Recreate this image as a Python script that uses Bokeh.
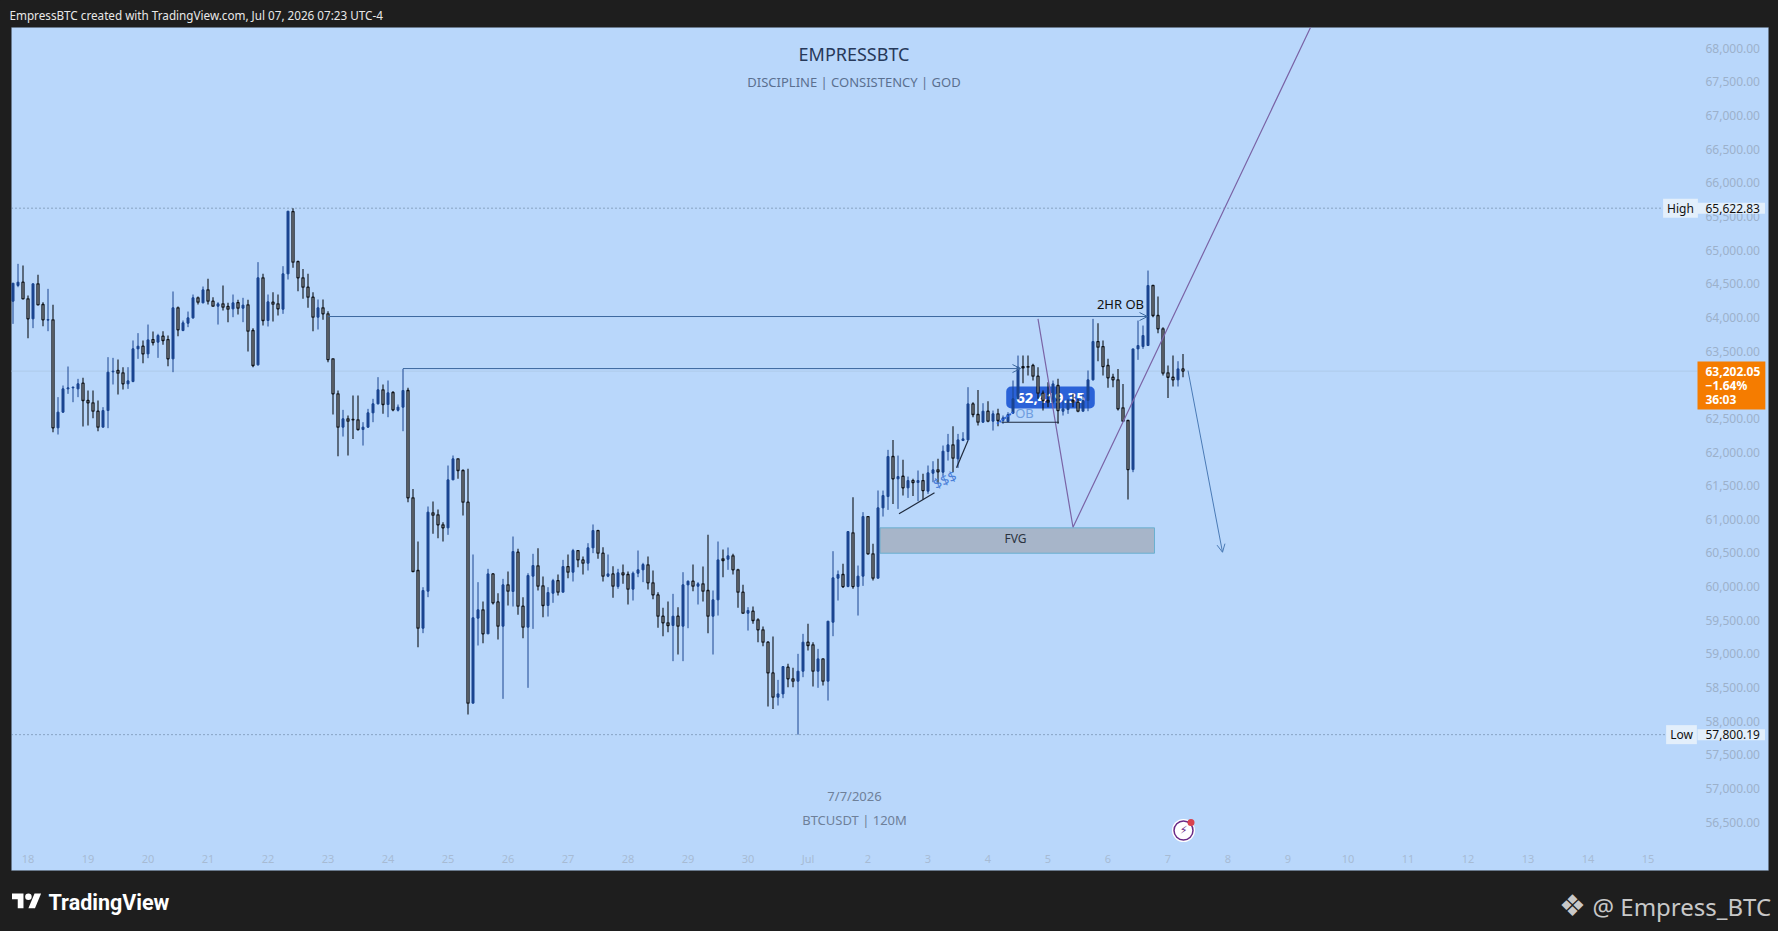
from bokeh.plotting import figure
from bokeh.models import (ColumnDataSource, Range1d, FixedTicker, NumeralTickFormatter, Label,
                          BoxAnnotation, Arrow, OpenHead)
from bokeh.embed import file_html
from bokeh.resources import INLINE

opens = [64241,64474,64523,64276,63979,64499,64192,63959,63964,62359,
62592,62938,62953,62938,63023,62765,62730,62607,62369,62616,
63191,63211,63176,63013,63047,63533,63572,63458,63671,63632,
63721,63671,63384,64142,63805,63914,63993,64291,64216,64409,
64241,64167,64201,64162,64127,64221,64137,64187,63805,63295,
64588,63954,64226,64201,64122,64647,65573,64830,64588,64449,
64300,64003,64142,64053,63384,62864,62369,62493,62483,62478,
62334,62369,62582,62716,62924,62706,62884,62621,62666,62914,
61319,60239,59382,59932,61096,61066,60918,60873,61586,61898,
61725,61254,58268,59531,59655,59298,60189,59773,59412,60026,
59927,60511,59709,59397,60155,60308,60011,59719,59902,60090,
59917,60298,60214,60536,60397,60348,60576,60833,60497,60155,
60189,60001,60204,60180,59962,60199,60249,60323,60056,59877,
59560,59461,59422,59560,59412,60026,60080,60006,60041,59942,
59560,59803,60412,60407,60457,60249,59917,59605,59635,59506,
59357,59174,58718,58357,58406,58803,58629,58595,58743,59174,
59135,58743,58926,58595,59471,60125,60180,60001,60799,60001,
60155,61041,60487,60125,61170,61338,61933,61601,61640,61467,
61576,61546,61576,61418,61685,61735,61700,62007,62106,61898,
62170,62180,62715,62557,62443,62606,62458,62567,62468,62453,
62577,62790,63270,63270,63285,63126,62874,62765,62740,62988,
62606,62631,62765,62740,62606,62765,63072,63641,63567,63285,
63111,63072,62656,62468,61739,63532,63567,63582,64474,64028,
63830,63176,63111,63072,63235]

highs = [64508,64796,64771,64325,64499,64632,64226,64424,64187,62815,
62988,63270,62973,63087,63102,62914,62914,62765,62666,63409,
63399,63374,63260,63260,63657,63766,63657,63894,63790,63756,
63795,63731,64385,64162,63954,64087,64340,64310,64459,64573,
64300,64226,64474,64216,64340,64261,64291,64261,63840,64821,
64647,64340,64375,64340,64761,65578,65622.83,64845,64721,64647,
64375,64266,64266,64092,63384,62914,62626,62542,62839,62839,
62443,62641,62790,63112,63003,63062,62904,62706,63236,62953,
61452,60670,59991,61190,61264,61145,60957,61799,61948,61898,
61740,61750,60477,60066,59778,60264,60199,59902,60115,60224,
60744,60561,59843,60199,60487,60571,60150,59991,60115,60180,
60397,60477,60561,60536,60447,60645,60923,60843,60586,60477,
60303,60264,60328,60224,60224,60536,60353,60447,60239,59917,
59684,59778,59892,59694,60214,60090,60328,60066,60298,60769,
59942,60670,60551,60581,60487,60264,60026,59694,59704,59531,
59407,59189,59258,58614,58817,58852,58793,59001,59298,59447,
59174,59075,58926,59486,60526,60239,60338,60823,61329,60313,
61106,61041,60635,61428,61427,62032,62180,61947,61883,61635,
61601,61725,61675,61799,61863,61898,62096,62269,62383,62269,
62294,62963,62740,62923,62725,62755,62616,62641,62542,62591,
63062,63433,63433,63433,63310,63260,62913,63037,63062,63087,
62765,62790,62864,62790,62864,63211,63978,63914,63656,63384,
63161,63235,63012,62477,63532,63953,63879,64696,64474,64310,
63854,63285,63433,63349,63458]

lows = [63904,64449,64276,63691,63840,64187,63870,63795,62294,62260,
62582,62864,62740,62815,62379,62394,62503,62309,62369,62354,
63003,62854,62928,62938,63037,63384,63320,63394,63582,63399,
63592,63275,63186,63721,63795,63855,63979,64192,64211,64192,
64162,63894,64102,63929,64003,64043,63929,63493,63260,63285,
63879,63865,63939,64028,64053,64563,64736,64390,64276,64142,
63795,63820,63964,63335,62557,61938,62230,61948,62195,62319,
62096,62359,62443,62706,62567,62517,62607,62602,62309,61254,
60224,59100,59308,59843,60784,60719,60670,60769,61586,61601,
61056,58099,58268,59125,59159,59298,59734,59214,58332,59719,
59704,59580,59234,58496,59372,59942,59546,59555,59759,59867,
59917,60125,60076,60288,60180,60239,60497,60412,60076,60140,
59833,59967,60041,59734,59793,60140,60066,59957,59813,59387,
59263,59323,58892,58991,58892,59382,59932,59734,59778,59308,
58991,59570,60140,60249,60180,59684,59595,59347,59447,59174,
59115,58218,58183,58233,58342,58505,58505,57800.19,58654,59050,
58515,58496,58530,58307,59263,59793,59981,59991,59967,59570,
60011,60477,60090,60125,61041,61140,61229,61155,61353,61318,
61348,61269,61289,61378,61551,61527,61650,61873,61700,61764,
62170,62170,62517,62393,62433,62443,62319,62383,62418,62453,
62567,62790,63022,63136,63062,62790,62616,62666,62715,62418,
62542,62567,62666,62591,62606,62606,63062,63349,63136,62953,
62963,62616,62458,61294,61700,63369,63532,63582,64003,63765,
63136,62804,62973,62973,63111]

closes = [64508,64523,64276,63979,64499,64187,63964,63969,62359,62592,
62938,62953,62963,63013,62765,62730,62607,62369,62616,63186,
63201,63171,63013,63057,63533,63572,63458,63666,63627,63731,
63657,63384,64142,63815,63919,63993,64291,64226,64409,64241,
64167,64201,64152,64122,64216,64137,64182,63795,63285,64588,
63954,64231,64196,64127,64647,65578,64821,64588,64449,64300,
64003,64142,64053,63374,62864,62369,62493,62458,62478,62334,
62369,62582,62716,62924,62706,62879,62626,62666,62914,61319,
60224,59382,59942,61106,61061,60918,60873,61586,61898,61725,
61254,58268,59536,59655,59298,60189,59759,59412,60026,59932,
60521,59709,59397,60165,60313,60006,59719,59912,60090,59917,
60298,60214,60536,60397,60348,60576,60833,60497,60155,60189,
60006,60204,60175,59962,60199,60249,60328,60056,59877,59560,
59461,59422,59560,59412,60026,60080,60006,60041,59932,59560,
59803,60397,60388,60457,60249,59917,59605,59645,59496,59357,
59174,58718,58357,58406,58812,58629,58595,58743,59174,59125,
58743,58926,58595,59486,60130,60180,60001,60818,60001,60155,
61041,60487,60125,61170,61353,61933,61601,61635,61467,61576,
61546,61576,61427,61690,61735,61705,62012,62106,61908,62180,
62195,62715,62557,62443,62606,62458,62567,62468,62507,62557,
62790,63260,63250,63260,63126,62874,62765,62740,63012,62616,
62641,62765,62740,62606,62765,63072,63641,63557,63270,63102,
63072,62641,62458,61739,63532,63582,63731,64474,64028,63830,
63171,63111,63072,63235,63202.05]

day_labels = ["18","19","20","21","22","23","24","25","26","27","28","29","30","Jul",
              "2","3","4","5","6","7","8","9","10","11","12","13","14","15"]
price_ticks = [56500,57000,57500,58000,58500,59000,59500,60000,60500,61000,61500,62000,
               62500,63000,63500,64000,64500,65000,65500,66000,66500,67000,67500,68000]
HIGH_PRICE = 65622.83
LOW_PRICE = 57800.19
LAST_PRICE = 63202.05

# drawings on the chart, as (bar index, price)
ob_line_a = ((63, 64013), (226.9, 64013))
ob_line_b = ((78, 63240), (201.5, 63240))
purple_x = [205, 212, 259.5]
purple_y = [63979, 60882, 68307]
plan_arrow = ((235, 63210), (241.9, 60510))
fvg_box = (173.4, 228.3, 60873, 60496)
trend_lines = [((177.2, 61081), (184.3, 61393)),
               ((188.7, 61765), (191, 62170)),
               ((197.7, 62442), (209.2, 62442))]

BG = "#b9d7fb"
DARK = "#1e1e1e"
UP = "#1a4590"
DOWN = "#0e1116"
HOLLOW = "#dfe9f4"

# pane geometry, in window pixels: the frame fills the window, the pane is a box inside it
W, H = 1778, 931
PANE_L, PANE_R, PANE_T, PANE_B = 11, 1768, 27, 870
SCALE_X, SCALE_Y = 1703, 845
PX_PER_BAR, BAR0_X = 5.0, 12.5
PX_PER_USD, P68_Y = 0.0673, 47.7


def X(px):
    return (px - BAR0_X) / PX_PER_BAR


def Y(py):
    return 68000 - (py - P68_Y) / PX_PER_USD


n = len(opens)
idx = list(range(n))
up = [i for i in idx if closes[i] > opens[i]]
dn = [i for i in idx if closes[i] <= opens[i]]


def subset(ids):
    return ColumnDataSource(dict(
        x=ids,
        hi=[highs[i] for i in ids],
        lo=[lows[i] for i in ids],
        top=[max(opens[i], closes[i]) for i in ids],
        bot=[min(opens[i], closes[i]) for i in ids],
    ))


p = figure(width=W, height=H, output_backend="svg", toolbar_location=None,
           x_range=Range1d(X(0), X(W)), y_range=Range1d(Y(H), Y(0)),
           y_axis_location="right",
           min_border=0,
           background_fill_color=DARK, border_fill_color=DARK)
p.outline_line_color = None
p.grid.visible = False

p.add_layout(BoxAnnotation(left=X(PANE_L), right=X(PANE_R), top=Y(PANE_T), bottom=Y(PANE_B),
                           fill_color=BG, fill_alpha=1, line_color="#66788e", line_width=1, level="image"))

# axes sit inside the pane, like TradingView's overlaid scales
xa = p.xaxis[0]
xa.fixed_location = Y(SCALE_Y)
xa.ticker = FixedTicker(ticks=[3 + 12 * k for k in range(len(day_labels))])
xa.major_label_overrides = {3 + 12 * k: s for k, s in enumerate(day_labels)}
xa.axis_line_color = None
xa.major_tick_line_color = None
xa.minor_tick_line_color = None
xa.major_tick_out = 0
xa.major_label_standoff = 5
xa.major_label_text_color = "#a7bbd4"
xa.major_label_text_font = "Noto Sans"
xa.major_label_text_font_size = "11px"

ya = p.yaxis[0]
ya.fixed_location = X(SCALE_X)
ya.ticker = FixedTicker(ticks=price_ticks)
ya.formatter = NumeralTickFormatter(format="0,0.00")
ya.axis_line_color = None
ya.major_tick_line_color = None
ya.minor_tick_line_color = None
ya.major_tick_out = 0
ya.major_label_standoff = 2
ya.major_label_text_color = "#9cb1cb"
ya.major_label_text_font = "Noto Sans"
ya.major_label_text_font_size = "12px"


def lab(text, x, y, size, color, font="Noto Sans", style="normal", align="center", level="annotation", **kw):
    l = Label(x=x, y=y, text=text, text_font=font, text_font_size=f"{size}px", text_color=color,
              text_font_style=style, text_align=align, text_baseline="middle", level=level, **kw)
    p.add_layout(l)
    return l


# blue price tag, beneath the candles
lab("OB", X(1024), Y(412), 13, "#6f9de0", level="underlay")
lab("62,419.35", X(1050), Y(397), 15, "white", style="bold", level="underlay",
    background_fill_color="#2a62d8", border_radius=5, padding=(10, 10, 6, 6))

# reference lines
p.segment([X(PANE_L)], [LAST_PRICE], [X(1697)], [LAST_PRICE], line_color="#aecaea", line_width=1)
p.segment([X(PANE_L)] * 2, [HIGH_PRICE, LOW_PRICE], [X(1664)] * 2, [HIGH_PRICE, LOW_PRICE],
          line_color="#57728c", line_width=1, line_dash="1 3")

# FVG
p.quad(left=[fvg_box[0]], right=[fvg_box[1]], top=[fvg_box[2]], bottom=[fvg_box[3]],
       fill_color="#a7b5c9", line_color="#6ab0d0", line_width=1)

# candles
src_up, src_dn = subset(up), subset(dn)
p.segment("x", "hi", "x", "lo", source=src_up, line_color=UP, line_width=1)
p.vbar("x", 0.4, "top", "bot", source=src_up, fill_color=UP, line_color=UP, line_width=1)
p.segment("x", "hi", "x", "lo", source=src_dn, line_color=DOWN, line_width=1.1)
p.vbar("x", 0.4, "top", "bot", source=src_dn, fill_color=HOLLOW, line_color=DOWN, line_width=1.3)

# drawings
p.line(purple_x, purple_y, line_color="#7a64a6", line_width=1.2)
for (a, b) in trend_lines:
    p.line([a[0], b[0]], [a[1], b[1]], line_color="#1f2a3d", line_width=1.2)
p.line([196.8, 200], [62420, 62590], line_color="#2a62d8", line_width=2, line_dash="2 1")

for (a, b), col in ((ob_line_a, "#3c689f"), (ob_line_b, "#3c689f"), (plan_arrow, "#4a7ab5")):
    p.add_layout(Arrow(end=OpenHead(size=8, line_color=col, line_width=1), line_color=col, line_width=1,
                       x_start=a[0], y_start=a[1], x_end=b[0], y_end=b[1]))

lab("$$$", X(944), Y(479), 14, "#4a7fd8", angle=25, angle_units="deg")
lab("2HR OB", X(1120), Y(303), 13, "#111111")
lab("FVG", X(1015), Y(538), 12, "#2b3340")
lab("EMPRESSBTC", X(853.5), Y(53), 18, "#27395a")
lab("DISCIPLINE | CONSISTENCY | GOD", X(853.5), Y(81), 13, "#5b7090")
lab("7/7/2026", X(854), Y(795), 13, "#6e8099")
lab("BTCUSDT | 120M", X(854), Y(819), 13, "#6e8099")

# lightning mark
p.scatter([X(1183)], [Y(830)], size=23, marker="circle", fill_color="white", line_color=None)
p.scatter([X(1183)], [Y(830)], size=19, marker="circle", fill_color="white", line_color="#6a2a86", line_width=1.5)
p.scatter([X(1190.5)], [Y(822)], size=7, marker="circle", fill_color="#d9424e", line_color=None)
lab("\u26a1", X(1183), Y(830), 11, "#6a2a86", font="DejaVu Sans")

# chips on the price scale
chip = "#e3effb"
lab("High", X(1680), HIGH_PRICE, 12, "#111111", background_fill_color=chip, padding=(4, 4, 1, 1))
lab("65,622.83", X(1697), HIGH_PRICE, 12, "#111111", align="left", background_fill_color=chip, padding=(8, 5, 1, 1))
lab("Low", X(1681), LOW_PRICE, 12, "#111111", background_fill_color=chip, padding=(4, 4, 1, 1))
lab("57,800.19", X(1697), LOW_PRICE, 12, "#111111", align="left", background_fill_color=chip, padding=(8, 5, 1, 1))
lab("63,202.05\n\u22121.64%\n36:03", X(1697), Y(385), 12, "white", style="bold", align="left",
    background_fill_color="#f57c00", padding=(8, 5, 2, 2), text_line_height=0.8)

# header and footer
lab("EmpressBTC created with TradingView.com, Jul 07, 2026 07:23 UTC-4", X(9), Y(14), 11.7, "#e8e8e8", align="left")


def logo_x(s):
    return X(11.5 + 0.82 * s)


def logo_y(s):
    return Y(893 + 0.82 * (s - 4))


p.patches([[logo_x(s) for s in (14, 7, 7, 0, 0, 14)], [logo_x(s) for s in (28, 20, 27.5, 35.5)]],
          [[logo_y(s) for s in (22, 22, 11, 11, 4, 4)], [logo_y(s) for s in (22, 22, 4, 4)]],
          fill_color="white", line_color=None)
p.scatter([logo_x(20)], [logo_y(8)], size=6.5, marker="circle", fill_color="white", line_color=None)
lab("TradingView", X(48), Y(902), 21.5, "white", font="Roboto", style="bold", align="left")
lab("\u2756", X(1572), Y(905), 30, "#c8c8c8", font="DejaVu Sans")
lab("@ Empress_BTC", X(1592), Y(906), 24, "#c8c8c8", align="left")

html = file_html(p, INLINE)
html = html.replace("<head>", f"<head><style>html,body{{background:{DARK};overflow:hidden;}}</style>", 1)
open("out.html", "w").write(html)
